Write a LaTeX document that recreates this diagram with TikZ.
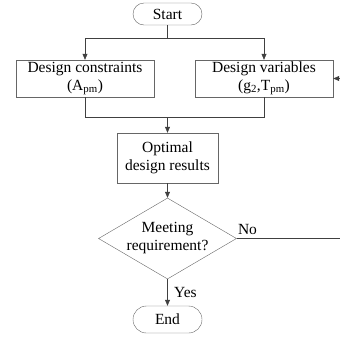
\documentclass[tikz,border=0pt]{standalone}
\usepackage{fontspec}
\setmainfont{Liberation Serif}
\usetikzlibrary{shapes.geometric,shapes.misc,arrows.meta}

\begin{document}
\begin{tikzpicture}[x=1pt, y=-1pt,
    every node/.style={font=\fontsize{15.5}{18}\selectfont},
    term/.style={draw=black!60, rounded rectangle, minimum width=69pt, inner sep=0pt},
    proc/.style={draw=black!60, rectangle, align=center, inner sep=0pt},
    decide/.style={draw=black!60, diamond, align=center, inner sep=-2pt, aspect=1.7, minimum width=138pt, minimum height=81pt},
    line/.style={draw=black!75, line width=0.6pt},
    arr/.style={line, -{Triangle[length=6pt,width=5pt]}}]
    \useasboundingbox (0,0) rectangle (340,338);

    % Nodes
    \node[term, minimum height=22pt] (start) at (167.5,14) {Start};
    \node[proc, minimum width=138pt, minimum height=37pt] (cons) at (85,78.5) {Design constraints\\(A\textsubscript{pm})};
    \node[proc, minimum width=138pt, minimum height=37pt] (vars) at (264,78.5) {Design variables\\(g\textsubscript{2},T\textsubscript{pm})};
    \node[proc, minimum width=101pt, minimum height=50pt] (opt) at (167.5,158) {Optimal\\design results};
    \node[decide] (check) at (167.5,238.5) {Meeting\\requirement?};
    \node[term, minimum height=27pt] (end) at (167.5,319.5) {End};

    % Junctions and free ends
    \coordinate (split) at (167.5,38);
    \coordinate (merge) at (167.5,117);
    \coordinate (noend) at (340,238.5);
    \coordinate (back) at (340,78.5);

    % Connections
    \draw[line] (start) -- (split);
    \draw[arr] (split) -| (cons);
    \draw[arr] (split) -| (vars);
    \draw[line] (cons) |- (merge);
    \draw[line] (vars) |- (merge);
    \draw[arr] (merge) -- (opt);
    \draw[arr] (opt) -- (check);
    \draw[arr] (check) -- node[right=3pt] {Yes} (end);
    \draw[line] (check.east) -- node[pos=0, anchor=south west, inner sep=1pt, yshift=3pt] {No} (noend);
    \draw[arr] (back) -- (vars);
\end{tikzpicture}
\end{document}
